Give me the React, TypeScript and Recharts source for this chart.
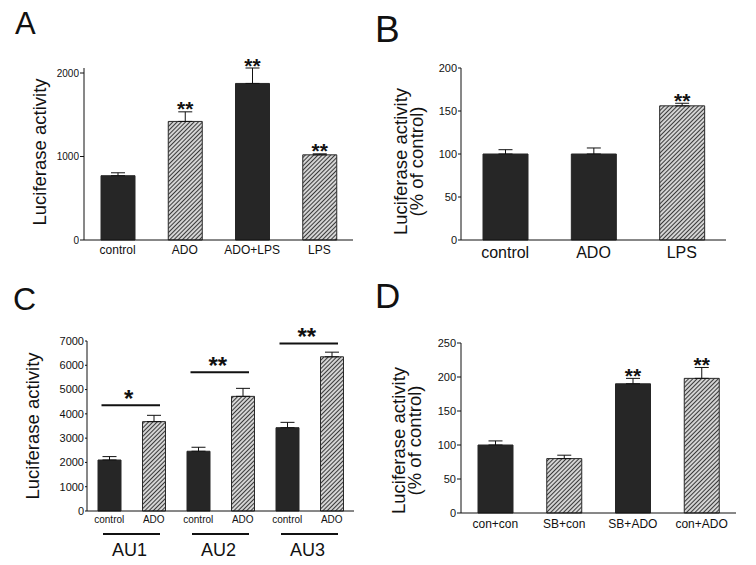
import React from "react";
import { BarChart, Bar, XAxis, YAxis, ErrorBar, Cell, LabelList } from "recharts";

const INK = "#111111";
const DARK = "#262626";
const FONT = '"Liberation Sans", Arial, Helvetica, sans-serif';

// Panel A
const catA = ["control", "ADO", "ADO+LPS", "LPS"];
const valA = [770, 1420, 1875, 1020];
const errA = [35, 115, 185, 12];
const hatchA = [false, true, false, true];
const sigA = ["", "**", "**", "**"];
const ticksA = [0, 1000, 2000];

// Panel B
const catB = ["control", "ADO", "LPS"];
const valB = [100, 100, 156];
const errB = [5, 7, 3];
const hatchB = [false, false, true];
const sigB = ["", "", "**"];
const ticksB = [0, 50, 100, 150, 200];

// Panel C
const catC = ["control", "ADO", "control", "ADO", "control", "ADO"];
const groupC = ["AU1", "AU1", "AU2", "AU2", "AU3", "AU3"];
const valC = [2100, 3680, 2460, 4720, 3430, 6350];
const errC = [140, 260, 165, 330, 220, 190];
const hatchC = [false, true, false, true, false, true];
const sigC = ["", "*", "", "**", "", "**"];
const sigLevelC = [0, 4350, 0, 5710, 0, 6900];
const ticksC = [0, 1000, 2000, 3000, 4000, 5000, 6000, 7000];

// Panel D
const catD = ["con+con", "SB+con", "SB+ADO", "con+ADO"];
const valD = [100, 80, 190, 198];
const errD = [6, 5, 8, 16];
const hatchD = [false, true, false, true];
const sigD = ["", "", "**", "**"];
const ticksD = [0, 50, 100, 150, 200, 250];

type Row = {
  name: string;
  label: string;
  group: string;
  value: number;
  err: number[];
  errValue: number;
  hatched: boolean;
  sig: string;
  sigLevel: number;
};

function makeRows(
  cats: string[],
  vals: number[],
  errs: number[],
  hatch: boolean[],
  sig: string[],
  groups?: string[],
  sigLevels?: number[]
): Row[] {
  return cats.map((c, i) => ({
    name: groups ? `${groups[i]} ${c}` : c,
    label: c,
    group: groups ? groups[i] : "",
    value: vals[i],
    err: [0, errs[i]],
    errValue: errs[i],
    hatched: hatch[i],
    sig: sig[i],
    sigLevel: sigLevels ? sigLevels[i] : 0,
  }));
}

const rowsA = makeRows(catA, valA, errA, hatchA, sigA);
const rowsB = makeRows(catB, valB, errB, hatchB, sigB);
const rowsC = makeRows(catC, valC, errC, hatchC, sigC, groupC, sigLevelC);
const rowsD = makeRows(catD, valD, errD, hatchD, sigD);

// stars above the error bar
const starLabel = (rows: Row[], fontSize: number) => (props: any) => {
  const x = Number(props.x), y = Number(props.y), w = Number(props.width), h = Number(props.height);
  const r = rows[props.index];
  if (!r || !r.sig || !r.value) return null;
  const k = h / r.value;
  const errTop = y - r.errValue * k;
  return (
    <text x={x + w / 2} y={errTop + 4.5} textAnchor="middle" fontSize={fontSize} fontWeight="bold" fill={INK}>
      {r.sig}
    </text>
  );
};

// bracket line + stars for panel C
const bracketLabel = (rows: Row[], fontSize: number, band: number) => (props: any) => {
  const x = Number(props.x), y = Number(props.y), w = Number(props.width), h = Number(props.height);
  const r = rows[props.index];
  if (!r || !r.sig || !r.value) return null;
  const k = h / r.value;
  const ly = y + h - r.sigLevel * k;
  const cx = x + w / 2;
  const x1 = cx - band - 8;
  const x2 = cx + 6;
  return (
    <g>
      <line x1={x1} x2={x2} y1={ly} y2={ly} stroke={INK} strokeWidth={2} />
      <text x={(x1 + x2) / 2 - 2} y={ly + 2} textAnchor="middle" fontSize={fontSize} fontWeight="bold" fill={INK}>
        {r.sig}
      </text>
    </g>
  );
};

const groupTick = (rows: Row[], band: number) => (props: any) => {
  const x = Number(props.x), y = Number(props.y);
  const i = props.index ?? props.payload?.index ?? 0;
  const r = rows[i];
  if (!r) return null;
  const gx = x + band / 2;
  return (
    <g>
      <text x={x} y={y} dy="0.71em" textAnchor="middle" fontSize={10} fill={INK}>
        {r.label}
      </text>
      {i % 2 === 0 && (
        <g>
          <line x1={gx - 28.5} x2={gx + 28.5} y1={y + 18} y2={y + 18} stroke={INK} strokeWidth={2} />
          <text x={gx - 2} y={y + 40} textAnchor="middle" fontSize={18} fill={INK}>
            {r.group}
          </text>
        </g>
      )}
    </g>
  );
};

const yTitle = (lines: string[], xs: number[], cy: number, fs: number) => () => (
  <g>
    {lines.map((l, i) => (
      <text
        key={i}
        x={xs[i]}
        y={cy}
        transform={`rotate(-90, ${xs[i]}, ${cy})`}
        textAnchor="middle"
        fontSize={fs}
        fill={INK}
      >
        {l}
      </text>
    ))}
  </g>
);

type PanelProps = {
  id: string;
  rows: Row[];
  left: number;
  top: number;
  width: number;
  height: number;
  margin: { top: number; right: number; bottom: number; left: number };
  yWidth: number;
  xHeight: number;
  domain: [number, number];
  ticks: number[];
  yFont: number;
  yTickSize: number;
  yTickMargin: number;
  xFont: number;
  xTickMargin: number;
  barSize: number;
  title: string[];
  titleX: number[];
  titleY: number;
  titleFont: number;
  labelContent: any;
  xTick?: any;
};

function Panel(p: PanelProps) {
  const hatchId = `hatch-${p.id}`;
  return (
    <div style={{ position: "absolute", left: p.left, top: p.top, width: p.width, height: p.height }}>
      <BarChart width={p.width} height={p.height} data={p.rows} margin={p.margin}>
        <defs>
          <pattern id={hatchId} patternUnits="userSpaceOnUse" width={3} height={3} patternTransform="rotate(45)">
            <rect width={3} height={3} fill="#efefef" />
            <line x1={1.5} y1={0} x2={1.5} y2={3} stroke="#3a3a3a" strokeWidth={1.3} />
          </pattern>
        </defs>
        <XAxis
          dataKey="name"
          interval={0}
          height={p.xHeight}
          stroke={INK}
          tickSize={0}
          tickLine={false}
          tickMargin={p.xTickMargin}
          axisLine={{ stroke: INK }}
          tick={p.xTick ?? { fill: INK, stroke: "none", fontSize: p.xFont }}
        />
        <YAxis
          type="number"
          domain={p.domain}
          ticks={p.ticks}
          interval={0}
          width={p.yWidth}
          stroke={INK}
          tickSize={p.yTickSize}
          tickMargin={p.yTickMargin}
          axisLine={{ stroke: INK }}
          tickLine={{ stroke: INK }}
          tick={{ fill: INK, stroke: "none", fontSize: p.yFont }}
          label={yTitle(p.title, p.titleX, p.titleY, p.titleFont)}
        />
        <Bar dataKey="value" barSize={p.barSize} isAnimationActive={false}>
          {p.rows.map((r, i) => (
            <Cell
              key={i}
              fill={r.hatched ? `url(#${hatchId})` : DARK}
              stroke={r.hatched ? "#2a2a2a" : DARK}
              strokeWidth={1}
            />
          ))}
          <ErrorBar dataKey="err" direction="y" width={7} stroke={INK} strokeWidth={1} isAnimationActive={false} />
          <LabelList dataKey="value" content={p.labelContent} />
        </Bar>
      </BarChart>
    </div>
  );
}

const bandC = (378 - 87 - 24) / 6;

export default function App() {
  return (
    <div
      style={{
        position: "absolute",
        left: 0,
        top: 0,
        width: 756,
        height: 565,
        background: "#fff",
        fontFamily: FONT,
        overflow: "hidden",
      }}
    >
      <Panel
        id="a"
        rows={rowsA}
        left={0}
        top={0}
        width={378}
        height={280}
        margin={{ top: 68, right: 25, bottom: 0, left: 0 }}
        yWidth={84}
        xHeight={40}
        domain={[0, 2000]}
        ticks={ticksA}
        yFont={10}
        yTickSize={4}
        yTickMargin={1}
        xFont={12}
        xTickMargin={5}
        barSize={34}
        title={["Luciferase activity"]}
        titleX={[46]}
        titleY={152}
        titleFont={18.5}
        labelContent={starLabel(rowsA, 21)}
      />
      <Panel
        id="b"
        rows={rowsB}
        left={378}
        top={0}
        width={378}
        height={280}
        margin={{ top: 68, right: 30, bottom: 0, left: 0 }}
        yWidth={83}
        xHeight={40}
        domain={[0, 200]}
        ticks={ticksB}
        yFont={11}
        yTickSize={3}
        yTickMargin={1}
        xFont={16}
        xTickMargin={7}
        barSize={45}
        title={["Luciferase activity", "(% of control)"]}
        titleX={[29, 45]}
        titleY={161.5}
        titleFont={18.5}
        labelContent={starLabel(rowsB, 21)}
      />
      <Panel
        id="c"
        rows={rowsC}
        left={0}
        top={280}
        width={378}
        height={285}
        margin={{ top: 61, right: 24, bottom: 0, left: 0 }}
        yWidth={87}
        xHeight={54}
        domain={[0, 7000]}
        ticks={ticksC}
        yFont={11}
        yTickSize={2}
        yTickMargin={1}
        xFont={10}
        xTickMargin={5}
        barSize={23}
        title={["Luciferase activity"]}
        titleX={[38.5]}
        titleY={146}
        titleFont={18.5}
        labelContent={bracketLabel(rowsC, 24, bandC)}
        xTick={groupTick(rowsC, bandC)}
      />
      <Panel
        id="d"
        rows={rowsD}
        left={378}
        top={280}
        width={378}
        height={285}
        margin={{ top: 63, right: 20, bottom: 0, left: 0 }}
        yWidth={83}
        xHeight={52}
        domain={[0, 250]}
        ticks={ticksD}
        yFont={11}
        yTickSize={4}
        yTickMargin={1}
        xFont={12}
        xTickMargin={6}
        barSize={35}
        title={["Luciferase activity", "(% of control)"]}
        titleX={[27, 43]}
        titleY={160.5}
        titleFont={18.5}
        labelContent={starLabel(rowsD, 21)}
      />
      <svg
        width={756}
        height={565}
        style={{ position: "absolute", left: 0, top: 0, pointerEvents: "none" }}
      >
        <text x={15} y={34} fontSize={31} fill="#111">A</text>
        <text x={375} y={42} fontSize={37} fill="#111">B</text>
        <text x={13} y={310} fontSize={32} fill="#111">C</text>
        <text x={375} y={308} fontSize={35} fill="#111">D</text>
      </svg>
    </div>
  );
}
